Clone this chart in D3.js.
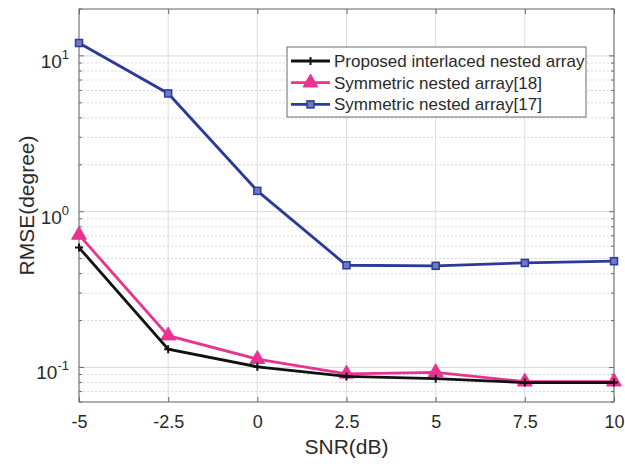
<!DOCTYPE html>
<html>
<head>
<meta charset="utf-8">
<script src="https://cdn.jsdelivr.net/npm/d3@7"></script>
<style>
  body { margin: 0; background: #fff; }
  text { font-family: "Liberation Sans", Arial, sans-serif; }
</style>
</head>
<body>
<svg id="chart"></svg>
<script>
// data
const snr = [-5, -2.5, 0, 2.5, 5, 7.5, 10];
const proposed = [0.588, 0.131, 0.101, 0.0875, 0.0847, 0.080, 0.080];
const symmetric18 = [0.709, 0.160, 0.113, 0.091, 0.093, 0.081, 0.081];
const symmetric17 = [12.1, 5.74, 1.36, 0.453, 0.449, 0.469, 0.481];
const xTicks = [-5, -2.5, 0, 2.5, 5, 7.5, 10];
const yTicks = [0.1, 1, 10];
const legendLabels = ["Proposed interlaced nested array", "Symmetric nested array[18]", "Symmetric nested array[17]"];

const W = 625, H = 464;
const margin = { top: 9, right: 11, bottom: 62, left: 79 };
const width = W - margin.left - margin.right;
const height = H - margin.top - margin.bottom;
const textCol = "#2a2a2a";

const svg = d3.select("#chart").attr("width", W).attr("height", H);
const g = svg.append("g").attr("transform", `translate(${margin.left},${margin.top})`);

const x = d3.scaleLinear().domain([-5, 10]).range([0, width]);
const y = d3.scaleLog().domain([0.06, 20]).range([height, 0]);

// minor log positions
const minor = [];
for (let e = -2; e <= 1; e++) {
  for (let m = 1; m <= 9; m++) {
    const v = m * Math.pow(10, e);
    if (v >= 0.06 && v <= 20) minor.push(v);
  }
}

// grid
g.selectAll(".hgrid").data(minor).enter().append("line")
  .attr("x1", 0).attr("x2", width)
  .attr("y1", d => y(d)).attr("y2", d => y(d))
  .attr("stroke", "#d8d8d8").attr("stroke-width", 1)
  .attr("stroke-dasharray", d => yTicks.includes(d) ? null : "2,2");
g.selectAll(".vgrid").data(xTicks).enter().append("line")
  .attr("x1", d => x(d)).attr("x2", d => x(d))
  .attr("y1", 0).attr("y2", height)
  .attr("stroke", "#dcdcdc").attr("stroke-width", 1);

// box
g.append("rect").attr("width", width).attr("height", height)
  .attr("fill", "none").attr("stroke", "#6b6b6b").attr("stroke-width", 1);

// ticks (inward)
const xAxis = g.append("g").attr("transform", `translate(0,${height})`)
  .call(d3.axisBottom(x).tickValues(xTicks).tickSize(-5).tickPadding(13).tickFormat(d => String(d)));
xAxis.select(".domain").remove();
xAxis.selectAll("line").attr("stroke", "#6b6b6b");
xAxis.selectAll("text").attr("font-size", 18).attr("fill", textCol).attr("font-family", "Liberation Sans, Arial, sans-serif");

g.append("g").call(d3.axisTop(x).tickValues(xTicks).tickSize(-5).tickFormat(""))
  .call(a => a.select(".domain").remove())
  .selectAll("line").attr("stroke", "#6b6b6b");

// y ticks left & right
[[0, 1], [width, -1]].forEach(([px, dir]) => {
  g.selectAll(null).data(minor).enter().append("line")
    .attr("x1", px).attr("x2", d => px + dir * (yTicks.includes(d) ? 5 : 3))
    .attr("y1", d => y(d)).attr("y2", d => y(d))
    .attr("stroke", "#6b6b6b");
});

// y tick labels like 10^1
const yLab = g.selectAll(".ylab").data(yTicks).enter().append("text")
  .attr("x", -10).attr("y", d => y(d) + 12)
  .attr("text-anchor", "end").attr("font-size", 19).attr("fill", textCol);
yLab.append("tspan").text("10");
yLab.append("tspan").attr("dy", -9).attr("font-size", 13).text(d => Math.round(Math.log10(d)));

// axis titles
svg.append("text").attr("x", margin.left + width / 2).attr("y", H - 10)
  .attr("text-anchor", "middle").attr("font-size", 21).attr("fill", textCol).text("SNR(dB)");
svg.append("text")
  .attr("transform", `translate(34,${margin.top + height / 2}) rotate(-90)`)
  .attr("text-anchor", "middle").attr("font-size", 21).attr("fill", textCol).text("RMSE(degree)");

// series
const series = [
  { name: legendLabels[0], values: proposed, color: "#111111", marker: "plus" },
  { name: legendLabels[1], values: symmetric18, color: "#e8338f", marker: "triangle" },
  { name: legendLabels[2], values: symmetric17, color: "#2b3a98", marker: "square" }
];

const line = d3.line().x(d => x(d[0])).y(d => y(d[1]));

function drawMarker(sel, type, color) {
  if (type === "plus") {
    sel.append("path").attr("d", "M-4,0H4M0,-4V4")
      .attr("stroke", color).attr("stroke-width", 2).attr("fill", "none");
  } else if (type === "triangle") {
    sel.append("path").attr("d", d3.symbol(d3.symbolTriangle, 95)())
      .attr("fill", color).attr("stroke", color).attr("stroke-width", 1);
  } else {
    sel.append("rect").attr("x", -3.5).attr("y", -3.5).attr("width", 7).attr("height", 7)
      .attr("fill", "#6f78c4").attr("stroke", color).attr("stroke-width", 1.5);
  }
}

// draw blue first, then pink, then black on top
[series[2], series[1], series[0]].forEach(s => {
  const pts = snr.map((v, i) => [v, s.values[i]]);
  g.append("path").datum(pts).attr("d", line)
    .attr("fill", "none").attr("stroke", s.color).attr("stroke-width", 2.8);
  pts.forEach(p => {
    const m = g.append("g").attr("transform", `translate(${x(p[0])},${y(p[1])})`);
    drawMarker(m, s.marker, s.color);
  });
});

// legend
const lg = svg.append("g").attr("transform", "translate(287,47)");
lg.append("rect").attr("width", 299).attr("height", 70)
  .attr("fill", "#fff").attr("stroke", "#6b6b6b").attr("stroke-width", 1);
series.forEach((s, i) => {
  const row = lg.append("g").attr("transform", `translate(0,${14 + i * 21.7})`);
  row.append("line").attr("x1", 4).attr("x2", 43).attr("y1", 0).attr("y2", 0)
    .attr("stroke", s.color).attr("stroke-width", 2.8);
  const m = row.append("g").attr("transform", "translate(23.5,0)");
  drawMarker(m, s.marker, s.color);
  row.append("text").attr("x", 47).attr("y", 6).attr("font-size", 17).attr("fill", textCol).text(s.name);
});
</script>
</body>
</html>
